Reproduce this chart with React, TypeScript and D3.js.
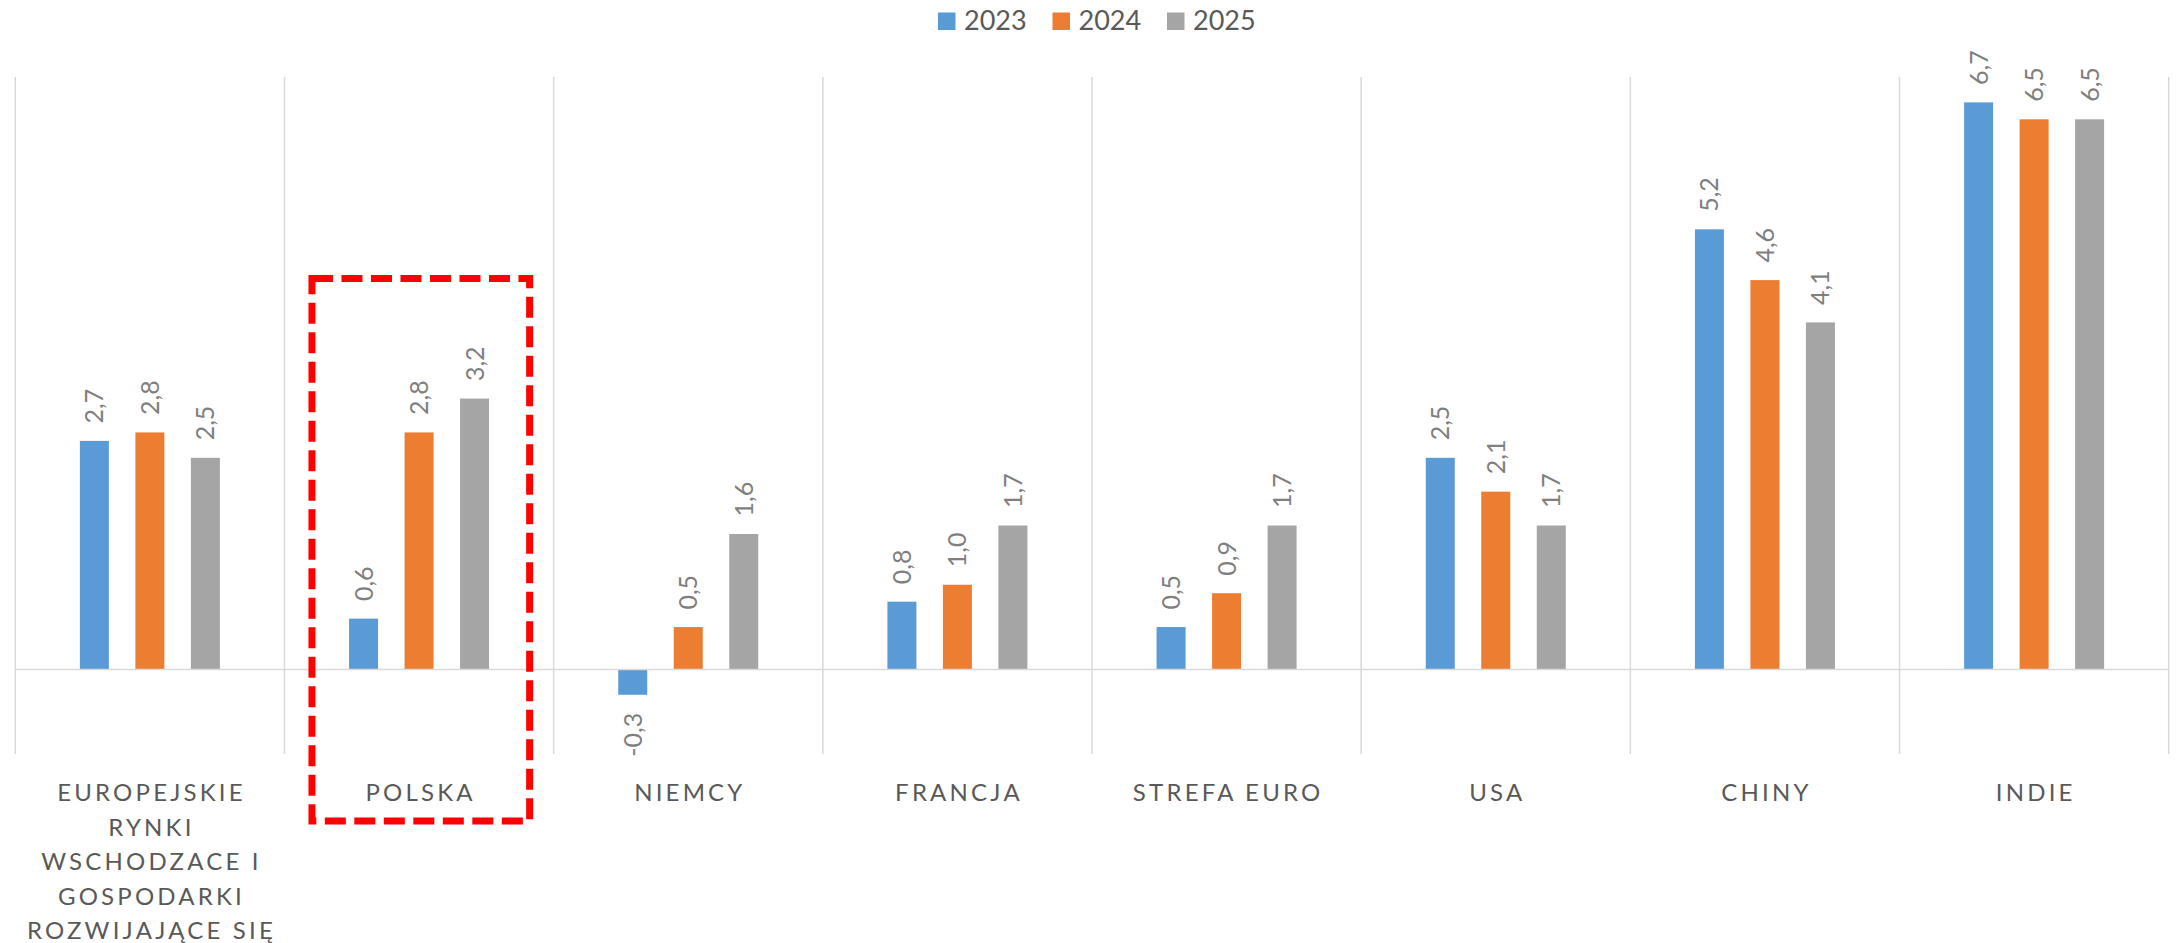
import React from "react";
import * as d3 from "d3";

const categories: string[][] = [
  ["EUROPEJSKIE", "RYNKI", "WSCHODZACE I", "GOSPODARKI", "ROZWIJAJĄCE SIĘ"],
  ["POLSKA"],
  ["NIEMCY"],
  ["FRANCJA"],
  ["STREFA EURO"],
  ["USA"],
  ["CHINY"],
  ["INDIE"],
];
const seriesNames = ["2023", "2024", "2025"];
const values2023 = [2.7, 0.6, -0.3, 0.8, 0.5, 2.5, 5.2, 6.7];
const values2024 = [2.8, 2.8, 0.5, 1.0, 0.9, 2.1, 4.6, 6.5];
const values2025 = [2.5, 3.2, 1.6, 1.7, 1.7, 1.7, 4.1, 6.5];
const seriesValues = [values2023, values2024, values2025];
const colors = ["#5B9BD5", "#ED7D31", "#A5A5A5"];
const yDomain: [number, number] = [-1, 7];
const highlightIndex = 1;

const W = 2177;
const H = 943;
const FONT = "Lato, 'Open Sans', sans-serif";

export default function App() {
  const left = 15.3;
  const right = 2168.7;
  const top = 77;
  const bottom = 754;

  const keys = categories.map((_, i) => String(i));
  const x0 = d3.scaleBand<string>().domain(keys).range([left, right]).paddingInner(0).paddingOuter(0);
  const bw = x0.bandwidth();
  const step = 55.5;
  const barW = 29;
  const pi = (step - barW) / step;
  const po = (bw / step - 3 + pi) / 2;
  const x1 = d3.scaleBand<string>().domain(seriesNames).range([0, bw]).paddingInner(pi).paddingOuter(po);
  const y = d3.scaleLinear().domain(yDomain).range([bottom, top]);
  const fmt = (v: number) => d3.format(".1f")(v).replace(".", ",").replace("−", "-");

  const boundaries = keys.map((k) => x0(k)!).concat([right]);

  const hx = x0(String(highlightIndex))!;
  const boxLeft = hx + 27.5;
  const boxRight = hx + bw - 24;

  return (
    <div style={{ position: "fixed", left: 0, top: 0, width: W, height: H, background: "#fff" }}>
      <svg width={W} height={H} style={{ display: "block" }}>
        <rect x={0} y={0} width={W} height={H} fill="#fff" />
        {seriesNames.map((s, i) => (
          <g key={s} transform={`translate(${938 + i * 114.5},0)`}>
            <rect x={0} y={12.5} width={17.5} height={17.5} fill={colors[i]} />
            <text x={26} y={30} fontFamily={FONT} fontSize={27} fill="#595959">
              {s}
            </text>
          </g>
        ))}
        {boundaries.map((bx, i) => (
          <line key={i} x1={bx} x2={bx} y1={top} y2={bottom} stroke="#d9d9d9" strokeWidth={1.5} />
        ))}
        {keys.map((k, ci) => (
          <g key={k} transform={`translate(${x0(k)},0)`}>
            {seriesNames.map((s, si) => {
              const v = seriesValues[si][ci];
              const y0 = y(0);
              const yv = y(v);
              const bx = x1(s)!;
              const cx = bx + x1.bandwidth() / 2;
              const isNeg = v < 0;
              const ly = isNeg ? yv + 18 : yv - 17.5;
              return (
                <g key={s}>
                  <rect
                    x={bx}
                    y={Math.min(y0, yv)}
                    width={x1.bandwidth()}
                    height={Math.abs(yv - y0)}
                    fill={colors[si]}
                  />
                  <text
                    transform={`translate(${cx},${ly}) rotate(-90)`}
                    dy="0.36em"
                    textAnchor={isNeg ? "end" : "start"}
                    fontFamily={FONT}
                    fontSize={25}
                    fill="#7f7f7f"
                  >
                    {fmt(v)}
                  </text>
                </g>
              );
            })}
          </g>
        ))}
        <line x1={left} x2={right} y1={y(0)} y2={y(0)} stroke="#d9d9d9" strokeWidth={1.5} />
        {keys.map((k, ci) => (
          <text
            key={k}
            x={x0(k)! + bw / 2 + 1.6}
            y={801}
            textAnchor="middle"
            fontFamily={FONT}
            fontSize={24}
            letterSpacing={3.2}
            fill="#595959"
          >
            {categories[ci].map((line, li) => (
              <tspan key={li} x={x0(k)! + bw / 2 + 1.6} dy={li === 0 ? 0 : 34.5}>
                {line}
              </tspan>
            ))}
          </text>
        ))}
        <rect
          x={boxLeft}
          y={278.5}
          width={boxRight - boxLeft}
          height={821 - 278.5}
          fill="none"
          stroke="#FF0000"
          strokeWidth={7}
          strokeDasharray="21 8.5"
        />
      </svg>
    </div>
  );
}
